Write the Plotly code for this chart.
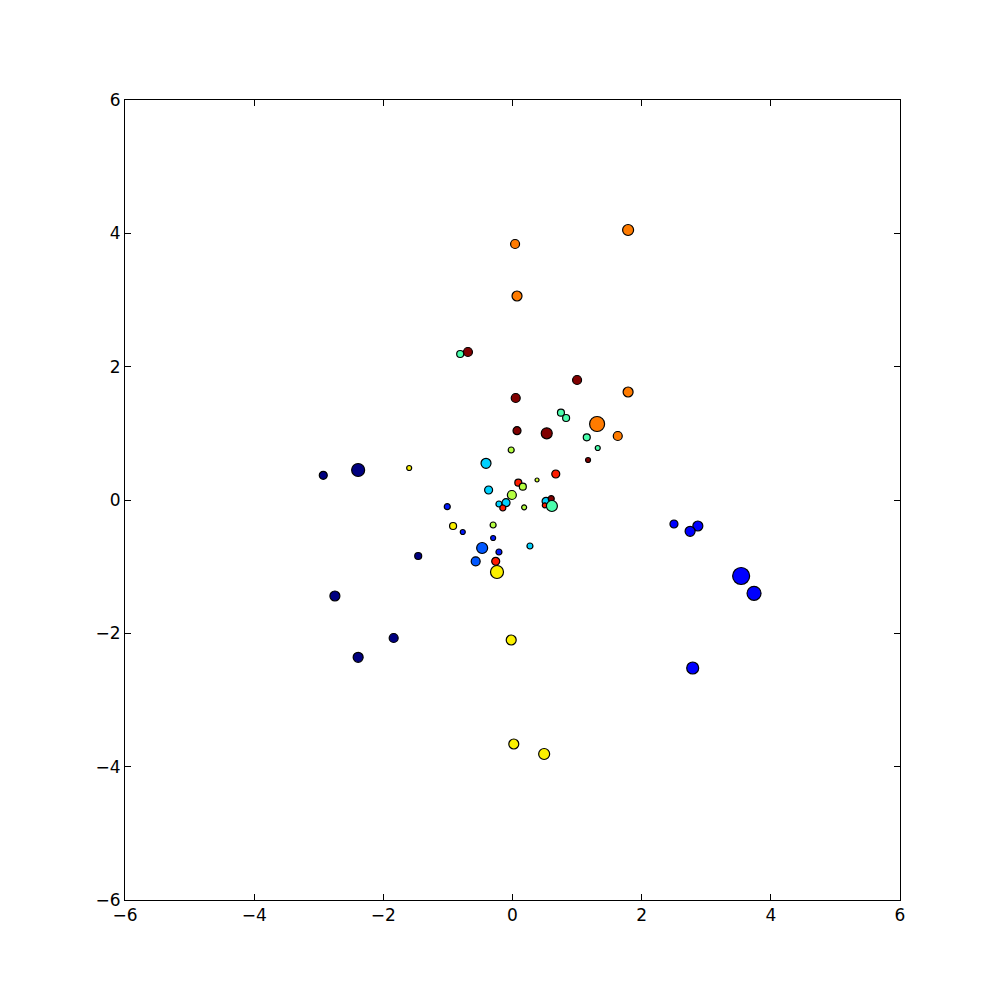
import plotly.graph_objects as go

# Point data
x_vals = [1.79, 0.04, 0.07, -0.69, -0.81, 1.00, 1.79, 0.05, 0.75, 0.83,
          1.31, 0.07, 0.53, 1.63, 1.15, 1.32, -0.02, -0.41, -1.60, -2.39,
          -2.93, 1.17, 0.67, 0.38, 0.09, -0.37, 0.16, -0.01, 0.52, 0.60,
          0.50, 0.61, -0.21, -0.10, -0.15, 0.18, -1.01, -0.92, -0.77, -0.30,
          -0.30, -1.46, -0.47, -0.21, 0.27, -0.57, -0.26, -0.24, 2.50, 2.87,
          2.75, 3.54, 3.74, 2.79, -2.75, -1.84, -2.39, -0.02, 0.02, 0.49]
y_vals = [4.05, 3.84, 3.06, 2.22, 2.19, 1.80, 1.62, 1.53, 1.31, 1.23,
          1.14, 1.04, 1.00, 0.96, 0.94, 0.78, 0.75, 0.55, 0.48, 0.45,
          0.37, 0.60, 0.39, 0.30, 0.26, 0.15, 0.20, 0.075, -0.02, 0.02,
          -0.08, -0.09, -0.06, -0.04, -0.12, -0.11, -0.10, -0.39, -0.48, -0.375,
          -0.57, -0.84, -0.72, -0.78, -0.69, -0.92, -0.92, -1.08, -0.36, -0.39,
          -0.47, -1.14, -1.40, -2.52, -1.44, -2.07, -2.36, -2.10, -3.66, -3.81]
color_vals = [0.78, 0.78, 0.78, 1.00, 0.44, 1.00, 0.78, 1.00, 0.44, 0.44,
              0.78, 1.00, 1.00, 0.78, 0.44, 0.44, 0.57, 0.33, 0.655, 0.0,
              0.0, 1.00, 0.88, 0.60, 0.88, 0.33, 0.57, 0.57, 0.33, 1.00,
              0.88, 0.44, 0.33, 0.33, 0.88, 0.57, 0.15, 0.655, 0.15, 0.57,
              0.15, 0.0, 0.21, 0.15, 0.33, 0.21, 0.88, 0.655, 0.125, 0.125,
              0.125, 0.125, 0.125, 0.125, 0.0, 0.0, 0.0, 0.655, 0.655, 0.655]
size_vals = [11, 9, 10, 9, 7, 9, 10, 9, 7, 7,
             15, 8, 11, 9, 7, 5, 6, 10, 5, 13,
             8, 5, 8, 4, 7, 8, 7, 9, 8, 6,
             5, 11, 6, 8, 6, 5, 6, 7, 5, 6,
             5, 7, 11, 6, 6, 9, 8, 13, 8, 10,
             10, 17, 14, 12, 10, 9, 10, 10, 10, 11]

# matplotlib "jet" colormap breakpoints
jet_scale = [
    [0.0, "rgb(0,0,128)"], [0.11, "rgb(0,0,255)"], [0.125, "rgb(0,0,255)"],
    [0.34, "rgb(0,219,255)"], [0.35, "rgb(0,230,247)"], [0.375, "rgb(21,255,226)"],
    [0.64, "rgb(239,255,8)"], [0.65, "rgb(247,245,0)"], [0.66, "rgb(255,236,0)"],
    [0.89, "rgb(255,19,0)"], [0.91, "rgb(232,0,0)"], [1.0, "rgb(128,0,0)"],
]

fig = go.Figure()
fig.add_trace(go.Scatter(
    x=x_vals, y=y_vals, mode="markers",
    marker=dict(size=size_vals, color=color_vals, colorscale=jet_scale,
                cmin=0, cmax=1, line=dict(color="black", width=1.2), opacity=1),
    showlegend=False, hoverinfo="skip",
))

axis_common = dict(
    range=[-6, 6], tick0=-6, dtick=2, ticks="inside", ticklen=6, tickwidth=1,
    tickcolor="black", showline=True, linecolor="black", linewidth=1,
    mirror="ticks", showgrid=False, zeroline=False,
    tickfont=dict(family="DejaVu Sans", size=17, color="black"),
)
fig.update_layout(
    width=1000, height=1000,
    margin=dict(l=117, r=108, t=92, b=108),
    plot_bgcolor="white", paper_bgcolor="white",
    xaxis=dict(**axis_common),
    yaxis=dict(**axis_common),
)
fig.write_html("out.html")
